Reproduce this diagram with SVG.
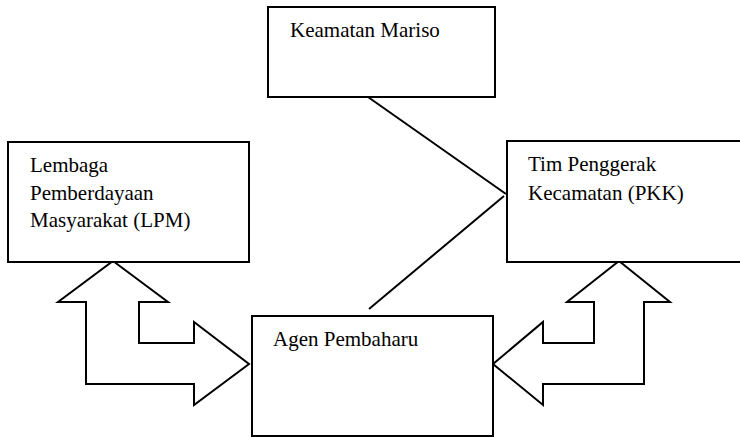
<svg xmlns="http://www.w3.org/2000/svg" width="740" height="437" viewBox="0 0 740 437">
  <style>
    .box { fill: #ffffff; stroke: #000000; stroke-width: 2; }
    .label { font-family: 'Liberation Serif', 'DejaVu Serif', serif; font-size: 21px; fill: #000000; }
    .link { stroke: #000000; stroke-width: 2; fill: none; }
    .dbl { fill: #ffffff; stroke: #000000; stroke-width: 2; stroke-linejoin: miter; }
  </style>
  <rect width="740" height="437" fill="#ffffff"/>

  <g id="connectors">
    <line class="link" x1="368" y1="97" x2="506" y2="194"/>
    <line class="link" x1="369" y1="309" x2="504" y2="196"/>
    <!-- bent two-way arrow between LPM and Agen Pembaharu -->
    <polygon class="dbl" points="113,261 168,302 139,302 139,343 194,343 194,322 249,364 194,405 194,384 86,384 86,302 58,302"/>
    <!-- bent two-way arrow between PKK and Agen Pembaharu -->
    <polygon class="dbl" points="619,261 670,302 644,302 644,384 543,384 543,405 493,364 543,322 543,343 594,343 594,302 567,302"/>
  </g>

  <g id="node-keamatan">
    <rect class="box" x="268" y="7" width="227" height="90"/>
    <text class="label" x="290" y="37" font-family="Liberation Serif">Keamatan Mariso</text>
  </g>

  <g id="node-lpm">
    <rect class="box" x="8" y="142" width="241" height="120"/>
    <text class="label" x="30" y="172">Lembaga</text>
    <text class="label" x="30" y="200">Pemberdayaan</text>
    <text class="label" x="30" y="227">Masyarakat (LPM)</text>
  </g>

  <g id="node-pkk">
    <rect class="box" x="507" y="141" width="245" height="121"/>
    <text class="label" x="528" y="171">Tim Penggerak</text>
    <text class="label" x="528" y="200">Kecamatan (PKK)</text>
  </g>

  <g id="node-agen">
    <rect class="box" x="252" y="316" width="241" height="120"/>
    <text class="label" x="273" y="346">Agen Pembaharu</text>
  </g>
</svg>
